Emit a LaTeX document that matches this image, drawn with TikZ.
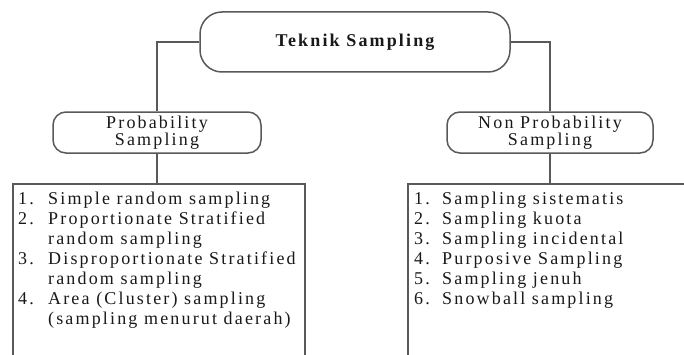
\documentclass[tikz,border=0pt]{standalone}
\usepackage{fontspec}
\setmainfont{Liberation Serif}[LetterSpace=12]
\begin{document}
\begin{tikzpicture}[x=1pt,y=1pt,
  line/.style={draw=black!65, line width=1.5pt},
  rbox/.style={line, rounded corners=13pt, align=center, inner sep=0pt,
    font=\fontsize{18}{17}\selectfont, text=black!90},
  lbox/.style={line, rectangle, inner sep=0pt, anchor=north west},
  ltext/.style={anchor=north west, inner sep=0pt, align=left,
    font=\fontsize{18}{20}\selectfont, text=black!90}]
\useasboundingbox (0,0) rectangle (684,354);
\clip (0,0) rectangle (684,354);
\fill[white] (0,0) rectangle (684,354);
\node[rbox, rounded corners=22pt, minimum width=310pt, minimum height=60pt,
  font=\fontsize{18}{20}\selectfont\bfseries] (title) at (355,312) {Teknik Sampling};
\node[rbox, minimum width=208pt, minimum height=41pt] (prob) at (157,221.5) {Probability\\Sampling};
\node[rbox, minimum width=206pt, minimum height=41pt] (nonprob) at (550,221.5) {Non Probability\\Sampling};
\node[lbox, minimum width=292pt, minimum height=200pt] (leftlist) at (12,171) {};
\node[lbox, minimum width=300pt, minimum height=200pt] (rightlist) at (407,171) {};
\node[ltext] (lefttext) at (18,164) {%
\strut\makebox[30pt][l]{1.}Simple random sampling\\
\strut\makebox[30pt][l]{2.}Proportionate Stratified\\
\strut\hspace*{30pt}random sampling\\
\strut\makebox[30pt][l]{3.}Disproportionate Stratified\\
\strut\hspace*{30pt}random sampling\\
\strut\makebox[30pt][l]{4.}Area (Cluster) sampling\\
\strut\hspace*{30pt}(sampling menurut daerah)};
\node[ltext] (righttext) at (414,164) {%
\strut\makebox[28pt][l]{1.}Sampling sistematis\\
\strut\makebox[28pt][l]{2.}Sampling kuota\\
\strut\makebox[28pt][l]{3.}Sampling incidental\\
\strut\makebox[28pt][l]{4.}Purposive Sampling\\
\strut\makebox[28pt][l]{5.}Sampling jenuh\\
\strut\makebox[28pt][l]{6.}Snowball sampling};
\draw[line] (title.west) -| (prob.north);
\draw[line] (title.east) -| (nonprob.north);
\draw[line] (prob.south) -- (prob.south |- leftlist.north);
\draw[line] (nonprob.south) -- (nonprob.south |- rightlist.north);
\end{tikzpicture}
\end{document}
